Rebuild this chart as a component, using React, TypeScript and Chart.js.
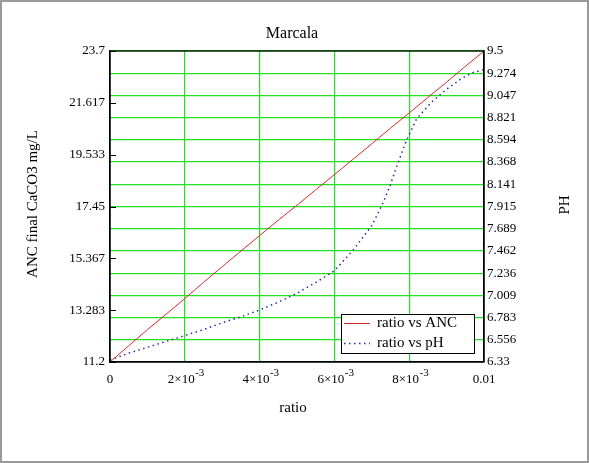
import React, { useEffect, useRef } from "react";
import { Chart, registerables } from "chart.js";
Chart.register(...registerables);

const chartTitle = "Marcala";
const xTitle = "ratio";
const yLeftTitle = "ANC final CaCO3 mg/L";
const yRightTitle = "PH";
const seriesLabels = ["ratio vs ANC", "ratio vs pH"];

const ratioANC = [0, 0.0005, 0.001, 0.0015, 0.002, 0.0025, 0.003, 0.0035, 0.004, 0.0045, 0.005, 0.0055, 0.006, 0.0065, 0.007, 0.0075, 0.008, 0.0085, 0.009, 0.0095, 0.01];
const ancValues = [11.2, 11.85, 12.5, 13.12, 13.75, 14.4, 15.03, 15.66, 16.28, 16.9, 17.5, 18.12, 18.73, 19.35, 19.97, 20.6, 21.21, 21.83, 22.45, 23.08, 23.7];

const ratioPH = [0, 0.0005, 0.001, 0.0015, 0.002, 0.0025, 0.003, 0.0035, 0.004, 0.0045, 0.005, 0.0055, 0.006, 0.0065, 0.007, 0.0073, 0.0075, 0.0077, 0.0079, 0.008, 0.0082, 0.0086, 0.009, 0.0094, 0.0097, 0.01];
const phValues = [6.35, 6.42, 6.48, 6.54, 6.6, 6.66, 6.73, 6.79, 6.86, 6.94, 7.03, 7.14, 7.26, 7.47, 7.72, 7.95, 8.14, 8.36, 8.56, 8.65, 8.81, 8.98, 9.11, 9.22, 9.28, 9.31];

const xTicks = [0, 0.002, 0.004, 0.006, 0.008, 0.01];
// [mantissa part, superscript exponent]
const xTickBase = ["0", "2×10", "4×10", "6×10", "8×10", "0.01"];
const xTickExp = ["", "-3", "-3", "-3", "-3", ""];
const yLeftTicks = [11.2, 13.283, 15.367, 17.45, 19.533, 21.617, 23.7];
const yRightTicks = [6.33, 6.556, 6.783, 7.009, 7.236, 7.462, 7.689, 7.915, 8.141, 8.368, 8.594, 8.821, 9.047, 9.274, 9.5];

const SERIF = '"Liberation Serif", "Times New Roman", serif';
const RED = "#d82828";
const BLUE = "#2828a8";
const GREEN = "#22e022";

export default function App() {
  const ref = useRef<HTMLCanvasElement | null>(null);

  useEffect(() => {
    document.body.style.margin = "0";
    const canvas = ref.current;
    if (!canvas) return;

    const overlay = {
      id: "overlay",
      afterDraw(chart: any) {
        const ctx = chart.ctx;
        const ca = chart.chartArea;
        const yL = chart.scales.y;
        const xS = chart.scales.x;
        ctx.save();
        // frame
        ctx.strokeStyle = "#000";
        ctx.lineWidth = 1.3;
        ctx.strokeRect(ca.left, ca.top, ca.right - ca.left, ca.bottom - ca.top);
        // inner left ticks
        ctx.lineWidth = 1;
        yLeftTicks.forEach((v) => {
          const py = Math.round(yL.getPixelForValue(v)) + 0.5;
          ctx.beginPath();
          ctx.moveTo(ca.left, py);
          ctx.lineTo(ca.left + 6, py);
          ctx.stroke();
        });
        ctx.fillStyle = "#000";
        // x tick labels with superscript exponents
        ctx.textBaseline = "alphabetic";
        ctx.textAlign = "left";
        xTicks.forEach((v, i) => {
          const px = xS.getPixelForValue(v);
          ctx.font = `13px ${SERIF}`;
          const wb = ctx.measureText(xTickBase[i]).width;
          ctx.font = `11px ${SERIF}`;
          const we = xTickExp[i] ? ctx.measureText(xTickExp[i]).width : 0;
          const start = px - (wb + we) / 2 + (xTickExp[i] ? 1 : 0);
          ctx.font = `13px ${SERIF}`;
          ctx.fillText(xTickBase[i], start, ca.bottom + 21);
          if (xTickExp[i]) {
            ctx.font = `11px ${SERIF}`;
            ctx.fillText(xTickExp[i], start + wb + 0.5, ca.bottom + 14);
          }
        });
        // title
        ctx.font = `16px ${SERIF}`;
        ctx.textAlign = "center";
        ctx.textBaseline = "middle";
        ctx.fillText(chartTitle, 292, 34);
        // x title
        ctx.font = `15px ${SERIF}`;
        ctx.fillText(xTitle, 293, 408);
        // y titles
        ctx.save();
        ctx.translate(33, 204);
        ctx.rotate(-Math.PI / 2);
        ctx.fillText(yLeftTitle, 0, 0);
        ctx.restore();
        ctx.save();
        ctx.translate(565, 205);
        ctx.rotate(-Math.PI / 2);
        ctx.fillText(yRightTitle, 0, 0);
        ctx.restore();
        // legend
        const lx = 341, ly = 314, lw = 133, lh = 39;
        ctx.fillStyle = "#fff";
        ctx.fillRect(lx, ly, lw, lh);
        ctx.strokeStyle = "#000";
        ctx.lineWidth = 1;
        ctx.strokeRect(lx + 0.5, ly + 0.5, lw, lh);
        const ds = chart.data.datasets;
        const rows = [323, 343];
        ds.forEach((d: any, i: number) => {
          ctx.beginPath();
          ctx.strokeStyle = d.borderColor;
          ctx.lineWidth = d.borderWidth;
          ctx.setLineDash(d.borderDash || []);
          ctx.moveTo(344, rows[i] + 0.5);
          ctx.lineTo(370, rows[i] + 0.5);
          ctx.stroke();
          ctx.setLineDash([]);
          ctx.fillStyle = "#000";
          ctx.font = `15px ${SERIF}`;
          ctx.textAlign = "left";
          ctx.textBaseline = "middle";
          ctx.fillText(d.label, 377, rows[i]);
        });
        ctx.restore();
      },
    };

    const chart = new Chart(canvas, {
      type: "line",
      data: {
        datasets: [
          {
            label: seriesLabels[0],
            data: ratioANC.map((x, i) => ({ x, y: ancValues[i] })),
            borderColor: RED,
            borderWidth: 1,
            pointRadius: 0,
            tension: 0,
            yAxisID: "y",
          },
          {
            label: seriesLabels[1],
            data: ratioPH.map((x, i) => ({ x, y: phValues[i] })),
            borderColor: BLUE,
            borderWidth: 1.5,
            borderDash: [1.5, 3.5],
            pointRadius: 0,
            tension: 0,
            yAxisID: "y1",
          },
        ],
      },
      plugins: [overlay],
      options: {
        animation: false,
        responsive: false,
        devicePixelRatio: 1,
        layout: { padding: { top: 51, left: 0, right: 0, bottom: 0 } },
        plugins: {
          legend: { display: false },
          title: { display: false },
          tooltip: { enabled: false },
        },
        scales: {
          x: {
            type: "linear",
            min: 0,
            max: 0.01,
            afterBuildTicks: (s: any) => {
              s.ticks = xTicks.map((v) => ({ value: v }));
            },
            afterFit: (s: any) => {
              s.height = 101;
            },
            ticks: { display: false },
            grid: { color: GREEN, lineWidth: 1.2, drawTicks: false },
            border: { color: "#000", width: 1.3 },
          },
          y: {
            type: "linear",
            position: "left",
            min: 11.2,
            max: 23.7,
            afterBuildTicks: (s: any) => {
              s.ticks = yLeftTicks.map((v) => ({ value: v }));
            },
            afterFit: (s: any) => {
              s.width = 110;
            },
            ticks: {
              padding: 5,
              color: "#000",
              font: { family: SERIF, size: 13 },
              autoSkip: false,
              callback: (_v: any, i: number) => String(yLeftTicks[i]),
            },
            grid: { display: false, drawTicks: false },
            border: { color: "#000", width: 1.3 },
          },
          y1: {
            type: "linear",
            position: "right",
            min: 6.33,
            max: 9.5,
            afterBuildTicks: (s: any) => {
              s.ticks = yRightTicks.map((v) => ({ value: v }));
            },
            afterFit: (s: any) => {
              s.width = 105;
            },
            ticks: {
              padding: 3,
              color: "#000",
              font: { family: SERIF, size: 13 },
              autoSkip: false,
              callback: (_v: any, i: number) => String(yRightTicks[i]),
            },
            grid: { color: GREEN, lineWidth: 1.2, drawTicks: false },
            border: { color: "#000", width: 1.3 },
          },
        },
      },
    });
    return () => chart.destroy();
  }, []);

  return (
    <div style={{ position: "relative", width: 589, height: 463, background: "#fff" }}>
      <canvas ref={ref} width={589} height={463} style={{ display: "block", width: 589, height: 463 }} />
      <div
        style={{
          position: "absolute",
          left: 0,
          top: 0,
          width: 589,
          height: 463,
          boxSizing: "border-box",
          border: "2px solid #9a9a9a",
          pointerEvents: "none",
        }}
      />
    </div>
  );
}
